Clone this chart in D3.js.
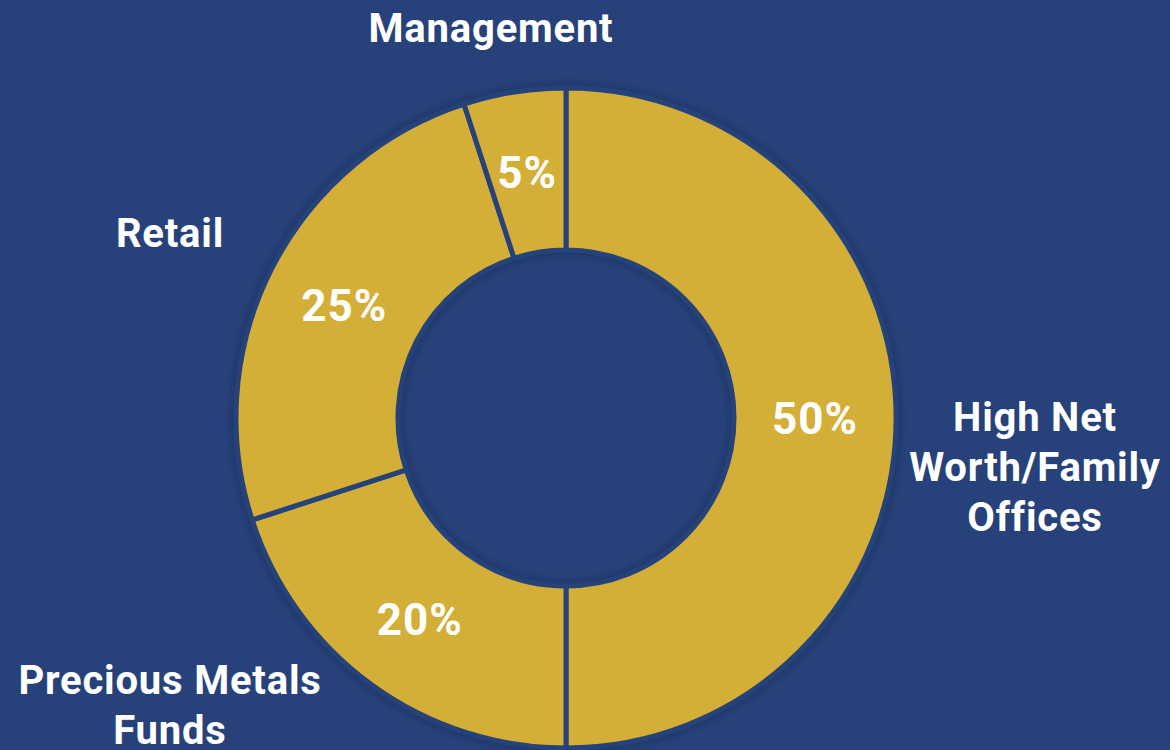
<!DOCTYPE html>
<html lang="en">
<head>
<meta charset="UTF-8">
<title>Client Breakdown</title>
<script src="https://d3js.org/d3.v7.min.js"></script>
<style>
  html, body { margin: 0; padding: 0; background: #27427a; }
  svg text { font-family: Roboto, "Noto Sans", sans-serif; font-weight: 700; fill: #ffffff; }
</style>
</head>
<body>
<svg id="chart"></svg>
<script>
  // slices, clockwise from 12 o'clock
  const categories = ["High Net Worth/Family Offices", "Precious Metals Funds", "Retail", "Management"];
  const shares = [50, 20, 25, 5];
  const labelLines = [
    ["High Net", "Worth/Family", "Offices"],
    ["Precious Metals", "Funds"],
    ["Retail"],
    ["Management"]
  ];

  const W = 1170, H = 750;
  const cx = 566, cy = 418;
  const outerR = 330, innerR = 168;
  const bg = "#27427a", gold = "#d4af37";

  const svg = d3.select("#chart").attr("width", W).attr("height", H);

  svg.append("rect").attr("width", W).attr("height", H).attr("fill", bg);

  const defs = svg.append("defs");
  const f = defs.append("filter").attr("id", "shadow")
      .attr("x", "-20%").attr("y", "-20%").attr("width", "140%").attr("height", "140%");
  f.append("feDropShadow").attr("dx", 0).attr("dy", 0).attr("stdDeviation", 4)
      .attr("flood-color", "#0c1a3a").attr("flood-opacity", 0.55);

  const pie = d3.pie().sort(null).value(d => d);
  const arcs = pie(shares);
  const arc = d3.arc().innerRadius(innerR).outerRadius(outerR);
  const labelArc = d3.arc().innerRadius(249).outerRadius(249);

  const g = svg.append("g").attr("transform", `translate(${cx},${cy})`);

  g.append("g").attr("filter", "url(#shadow)")
    .selectAll("path")
    .data(arcs)
    .join("path")
      .attr("d", arc)
      .attr("fill", gold)
      .attr("stroke", bg)
      .attr("stroke-width", 5)
      .attr("stroke-linejoin", "miter");

  // percentage labels
  g.selectAll("text.pct")
    .data(arcs)
    .join("text")
      .attr("class", "pct")
      .attr("transform", d => `translate(${labelArc.centroid(d)})`)
      .attr("text-anchor", "middle")
      .attr("dy", "0.36em")
      .style("font-size", "44px")
      .style("letter-spacing", "1px")
      .text(d => d.data + "%");

  // category labels outside
  const labelPos = [
    { x: 1035, y: 417 },
    { x: 170, y: 680 },
    { x: 170, y: 233 },
    { x: 491, y: 28 }
  ];
  const lineH = 50;

  labelLines.forEach((lines, i) => {
    const p = labelPos[i];
    const t = svg.append("text")
      .attr("class", "cat")
      .attr("text-anchor", "middle")
      .attr("aria-label", categories[i])
      .style("font-size", "40px")
      .style("letter-spacing", "0.8px");
    lines.forEach((ln, j) => {
      t.append("tspan")
        .attr("x", p.x)
        .attr("y", p.y + j * lineH)
        .attr("dy", "0.36em")
        .text(ln);
    });
  });
</script>
</body>
</html>
